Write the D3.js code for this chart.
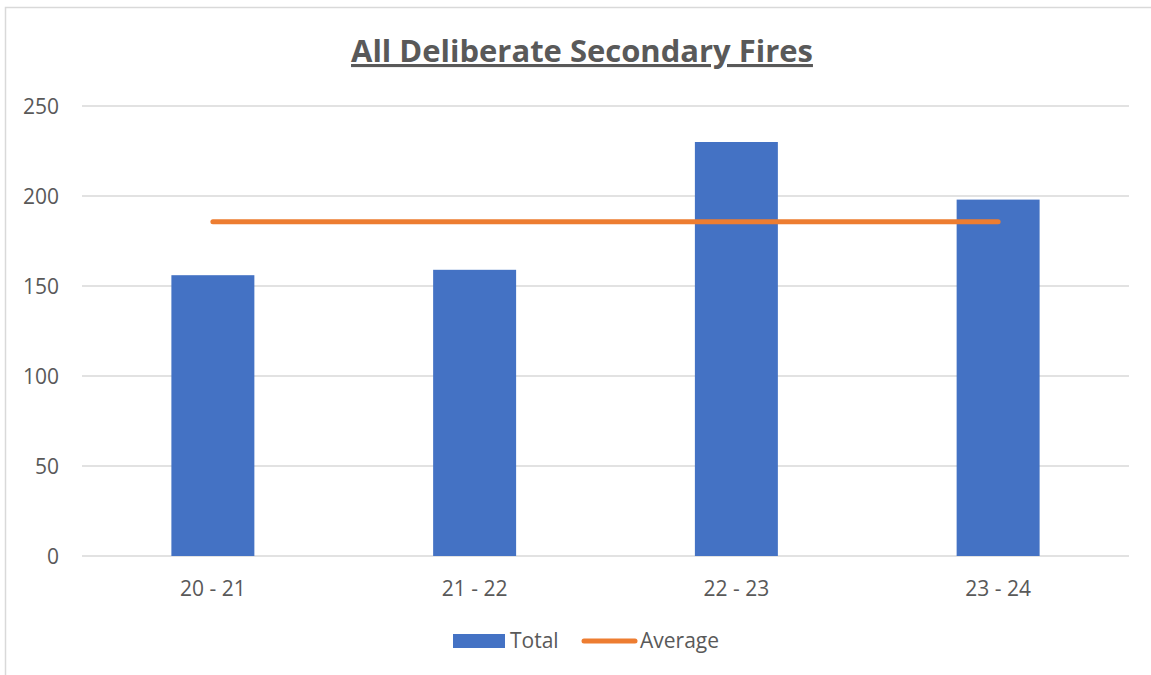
<!DOCTYPE html>
<html>
<head>
<meta charset="utf-8">
<script src="https://cdn.jsdelivr.net/npm/d3@7"></script>
<style>
  body { margin: 0; background: #fff; }
  svg { display: block; font-family: "Open Sans", sans-serif; }
</style>
</head>
<body>
<svg width="1151" height="675"></svg>
<script>
let years = ["20 - 21", "21 - 22", "22 - 23", "23 - 24"];
let totals = [156, 159, 230, 198];
let yTicks = [0, 50, 100, 150, 200, 250];

let average = d3.mean(totals);

let svg = d3.select('svg'),
  margin = { top: 106, right: 22, bottom: 119, left: 82 },
  width = +svg.attr('width') - margin.left - margin.right,
  height = +svg.attr('height') - margin.top - margin.bottom;

// chart frame (cut off on right and bottom in original)
svg.append('rect')
  .attr('x', 5.5).attr('y', 7.5)
  .attr('width', 1160).attr('height', 700)
  .style('fill', 'none').style('stroke', '#d9d9d9').style('stroke-width', 1.5);

let g = svg.append('g')
  .attr('transform', 'translate(' + margin.left + ',' + margin.top + ')');

let x = d3.scaleBand().domain(years).range([0, width]).padding(0),
  y = d3.scaleLinear().domain([0, 250]).range([height, 0]);

let barW = x.bandwidth() * 0.317;

// gridlines
g.selectAll('.grid')
  .data(yTicks)
  .enter()
  .append('line')
  .attr('x1', 0).attr('x2', width)
  .attr('y1', d => y(d)).attr('y2', d => y(d))
  .style('stroke', '#d9d9d9').style('stroke-width', 1.5);

// y labels
g.selectAll('.ylab')
  .data(yTicks)
  .enter()
  .append('text')
  .attr('x', -23)
  .attr('y', d => y(d))
  .attr('dy', '0.36em')
  .attr('text-anchor', 'end')
  .style('font-size', '21px')
  .style('fill', '#595959')
  .text(d => d);

// bars
g.selectAll('.bar')
  .data(totals)
  .enter()
  .append('rect')
  .attr('x', (d, i) => x(years[i]) + (x.bandwidth() - barW) / 2)
  .attr('y', d => y(d))
  .attr('width', barW)
  .attr('height', d => height - y(d))
  .style('fill', '#4472C4');

// x labels
g.selectAll('.xlab')
  .data(years)
  .enter()
  .append('text')
  .attr('x', d => x(d) + x.bandwidth() / 2)
  .attr('y', height + 40)
  .attr('text-anchor', 'middle')
  .style('font-size', '21px')
  .style('fill', '#595959')
  .text(d => d);

// average line
let line = d3.line()
  .x(d => x(d) + x.bandwidth() / 2)
  .y(() => y(average));

g.append('path')
  .attr('d', line(years))
  .style('fill', 'none')
  .style('stroke', '#ED7D31')
  .style('stroke-width', 5)
  .style('stroke-linecap', 'round');

// title, sized to fit the original width
let title = svg.append('text')
  .attr('x', 582)
  .attr('y', 62)
  .attr('text-anchor', 'middle')
  .style('font-size', '25px')
  .style('font-weight', 'bold')
  .style('fill', '#595959')
  .style('text-decoration', 'underline')
  .text('All Deliberate Secondary Fires');
let tw = title.node().getComputedTextLength();
if (tw > 0) title.style('font-size', (25 * 462 / tw) + 'px');

// legend
let legend = svg.append('g');
legend.append('rect')
  .attr('x', 453).attr('y', 634)
  .attr('width', 52).attr('height', 14)
  .style('fill', '#4472C4');
legend.append('text')
  .attr('x', 510).attr('y', 648)
  .style('font-size', '21px')
  .style('fill', '#595959')
  .text('Total');
legend.append('line')
  .attr('x1', 584).attr('x2', 635)
  .attr('y1', 641).attr('y2', 641)
  .style('stroke', '#ED7D31')
  .style('stroke-width', 5)
  .style('stroke-linecap', 'round');
legend.append('text')
  .attr('x', 640).attr('y', 648)
  .style('font-size', '21px')
  .style('fill', '#595959')
  .text('Average');
</script>
</body>
</html>
